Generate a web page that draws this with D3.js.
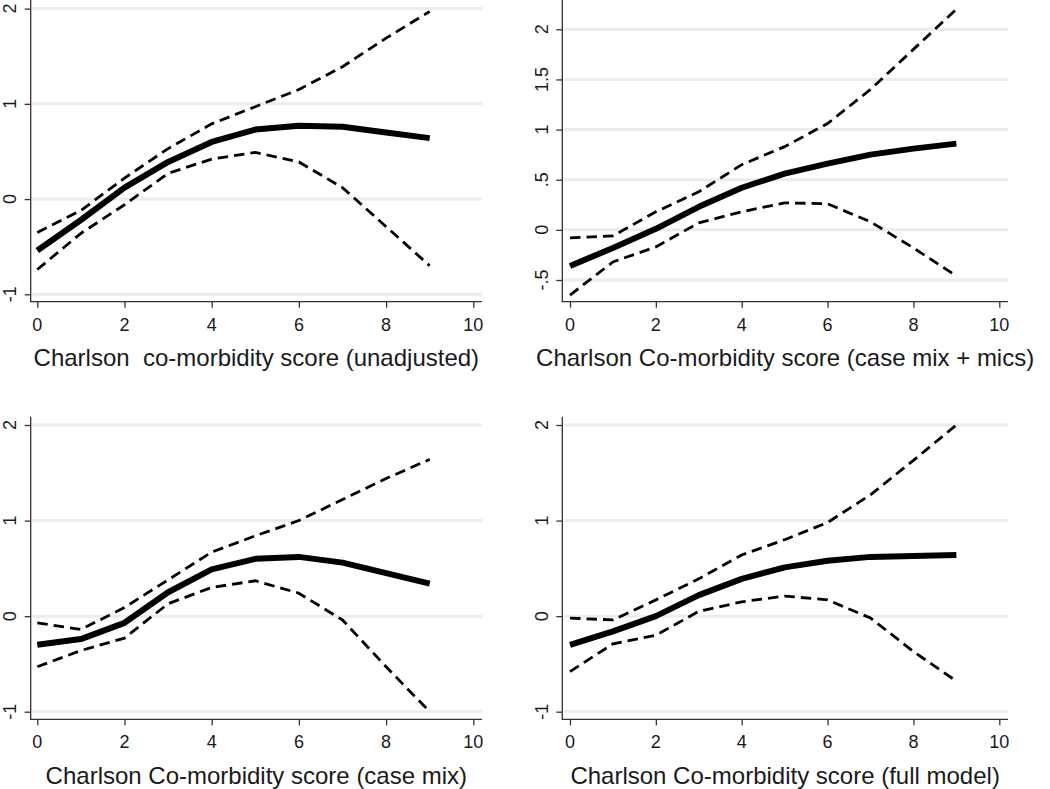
<!DOCTYPE html>
<html>
<head>
<meta charset="utf-8">
<script src="https://cdn.jsdelivr.net/npm/d3@7"></script>
<style>
html,body{margin:0;padding:0;background:#fff;}
svg{display:block;}
text{font-family:"Liberation Sans",Arial,Helvetica,sans-serif;fill:#1a1a1a;}
</style>
</head>
<body>
<svg id="chart" width="1050" height="789"></svg>
<script>
// ---- data ----
const scores = [0,1,2,3,4,5,6,7,8,9];
const xTicks = [0,2,4,6,8,10];

const titles = [
  "Charlson  co-morbidity score (unadjusted)",
  "Charlson Co-morbidity score (case mix + mics)",
  "Charlson Co-morbidity score (case mix)",
  "Charlson Co-morbidity score (full model)"
];

const yTicksA = [-1,0,1,2];
const yTicksB = [-0.5,0,0.5,1,1.5,2];
const yTickLabelsA = ["-1","0","1","2"];
const yTickLabelsB = ["-.5","0",".5","1","1.5","2"];

// panel 1: unadjusted
const est1   = [-0.54,-0.22,0.12,0.39,0.60,0.73,0.77,0.76,0.70,0.64];
const upper1 = [-0.35,-0.12,0.22,0.53,0.79,0.97,1.15,1.39,1.69,1.97];
const lower1 = [-0.74,-0.36,-0.06,0.27,0.42,0.49,0.39,0.12,-0.29,-0.70];

// panel 2: case mix + mics
const est2   = [-0.36,-0.18,0.01,0.23,0.42,0.56,0.66,0.75,0.81,0.86];
const upper2 = [-0.08,-0.06,0.18,0.38,0.65,0.83,1.06,1.40,1.80,2.20];
const lower2 = [-0.65,-0.32,-0.17,0.07,0.18,0.27,0.26,0.08,-0.18,-0.46];

// panel 3: case mix
const est3   = [-0.30,-0.24,-0.07,0.25,0.49,0.60,0.62,0.56,0.45,0.34];
const upper3 = [-0.07,-0.14,0.09,0.38,0.67,0.84,1.00,1.22,1.44,1.64];
const lower3 = [-0.53,-0.36,-0.23,0.13,0.30,0.37,0.24,-0.04,-0.53,-1.00];

// panel 4: full model
const est4   = [-0.30,-0.16,0.00,0.22,0.39,0.51,0.58,0.62,0.63,0.64];
const upper4 = [-0.02,-0.04,0.17,0.39,0.64,0.80,0.98,1.27,1.63,2.00];
const lower4 = [-0.58,-0.29,-0.20,0.05,0.15,0.21,0.17,-0.02,-0.37,-0.68];

// ---- layout ----
const panels = [
  {title:titles[0], est:est1, up:upper1, lo:lower1, yt:yTicksA, yl:yTickLabelsA,
   axisX:30.7, right:482, xr:[37.3,473.3], yd:[-1,2], yr:[294.3,8.6], top:0, bottom:301.7, lblX:9.5, xLblY:325, titleY:357},
  {title:titles[1], est:est2, up:upper2, lo:lower2, yt:yTicksB, yl:yTickLabelsB,
   axisX:562.3, right:1008, xr:[570,999.3], yd:[-0.5,2], yr:[280,29.3], top:0, bottom:301.7, lblX:541.5, xLblY:325, titleY:357},
  {title:titles[2], est:est3, up:upper3, lo:lower3, yt:yTicksA, yl:yTickLabelsA,
   axisX:30.7, right:482, xr:[37.3,473.3], yd:[-1,2], yr:[711.7,425], top:416.7, bottom:719.3, lblX:9.5, xLblY:742, titleY:775},
  {title:titles[3], est:est4, up:upper4, lo:lower4, yt:yTicksA, yl:yTickLabelsA,
   axisX:562.3, right:1008, xr:[570,999.3], yd:[-1,2], yr:[711.7,425], top:416.7, bottom:719.3, lblX:541.5, xLblY:742, titleY:775}
];

const svg = d3.select("#chart");

panels.forEach(p => {
  const g = svg.append("g");
  const x = d3.scaleLinear().domain([0,10]).range(p.xr);
  const y = d3.scaleLinear().domain(p.yd).range(p.yr);

  // gridlines
  g.selectAll(".grid").data(p.yt).enter().append("line")
    .attr("x1", p.axisX + 1.5).attr("x2", p.right)
    .attr("y1", d => y(d)).attr("y2", d => y(d))
    .attr("stroke", "#e6eef1").attr("stroke-width", 3);

  // y axis
  const yAxis = d3.axisLeft(y).tickValues(p.yt).tickSize(6).tickFormat("");
  const ya = g.append("g").attr("transform", `translate(${p.axisX},0)`).call(yAxis);
  ya.select(".domain").remove();
  ya.selectAll(".tick line").attr("stroke", "#333").attr("stroke-width", 1.3);
  g.append("line").attr("x1", p.axisX).attr("x2", p.axisX)
    .attr("y1", p.top).attr("y2", p.bottom + 0.6)
    .attr("stroke", "#333").attr("stroke-width", 1.3);

  // y tick labels (rotated)
  g.selectAll(".ylab").data(p.yt).enter().append("text")
    .attr("transform", d => `translate(${p.lblX},${y(d)}) rotate(-90)`)
    .attr("text-anchor", "middle").attr("dy", "0.36em")
    .attr("font-size", 18)
    .text((d,i) => p.yl[i]);

  // x axis
  const xAxis = d3.axisBottom(x).tickValues(xTicks).tickSize(6).tickFormat("");
  const xa = g.append("g").attr("transform", `translate(0,${p.bottom})`).call(xAxis);
  xa.select(".domain").remove();
  xa.selectAll(".tick line").attr("stroke", "#333").attr("stroke-width", 1.3);
  g.append("line").attr("x1", p.axisX).attr("x2", p.right)
    .attr("y1", p.bottom).attr("y2", p.bottom)
    .attr("stroke", "#333").attr("stroke-width", 1.3);

  g.selectAll(".xlab").data(xTicks).enter().append("text")
    .attr("x", d => x(d)).attr("y", p.xLblY)
    .attr("text-anchor", "middle").attr("dy", "0.36em")
    .attr("font-size", 18)
    .text(d => d);

  // title
  g.append("text")
    .attr("x", (p.axisX + p.right) / 2).attr("y", p.titleY)
    .attr("text-anchor", "middle").attr("dy", "0.36em")
    .attr("font-size", 24)
    .style("white-space", "pre")
    .attr("xml:space", "preserve")
    .text(p.title);

  const line = d3.line().x((d,i) => x(scores[i])).y(d => y(d));

  // confidence bounds
  [p.up, p.lo].forEach(arr => {
    g.append("path").attr("d", line(arr))
      .attr("fill", "none").attr("stroke", "#000")
      .attr("stroke-width", 2.8).attr("stroke-dasharray", "10.5,6");
  });
  // estimate
  g.append("path").attr("d", line(p.est))
    .attr("fill", "none").attr("stroke", "#000")
    .attr("stroke-width", 6).attr("stroke-linejoin", "round");
});
</script>
</body>
</html>
